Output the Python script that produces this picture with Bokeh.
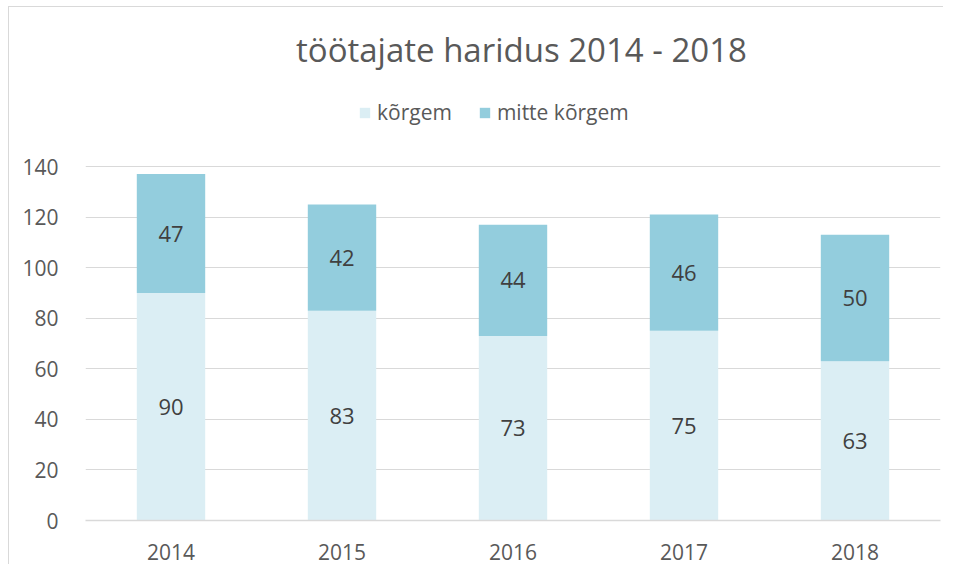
from bokeh.plotting import figure
from bokeh.models import (ColumnDataSource, FactorRange, Range1d, FixedTicker, LabelSet,
                          Legend, LegendItem, Label)
from bokeh.core.properties import value
from bokeh.embed import file_html
from bokeh.resources import INLINE

years = ["2014", "2015", "2016", "2017", "2018"]
korgem = [90, 83, 73, 75, 63]
mitte_korgem = [47, 42, 44, 46, 50]
series_names = ["kõrgem", "mitte kõrgem"]
colors = ["#DBEEF4", "#93CDDD"]
y_ticks = [0, 20, 40, 60, 80, 100, 120, 140]
title_text = "töötajate haridus 2014 - 2018"

FONT = "Open Sans"
TXT = "#595959"

# layout (pixels)
W, H = 935, 558
LEFT, RIGHT, BOTTOM = 76, 4, 45
AXIS_PX = 354            # pixels spanned by 0..140
frame_h = H - BOTTOM
y_top = y_ticks[-1] * frame_h / AXIS_PX

src = ColumnDataSource(dict(year=years, korgem=korgem, mitte=mitte_korgem))

p = figure(x_range=FactorRange(*years), y_range=Range1d(0, y_top),
           width=W, height=H, output_backend="svg", toolbar_location=None,
           min_border_left=LEFT, min_border_right=RIGHT, min_border_bottom=BOTTOM,
           min_border_top=0)
p.title = None
p.outline_line_color = None
p.styles = {"border-left": "1px solid #d9d9d9", "border-top": "1px solid #d9d9d9",
            "margin-left": "8px", "margin-top": "6px"}

rs = p.vbar_stack(["korgem", "mitte"], x="year", width=0.4, color=colors,
                  line_color=None, source=src)

# data labels
lab_x = years + years
lab_y = [k / 2 for k in korgem] + [k + m / 2 for k, m in zip(korgem, mitte_korgem)]
lab_t = [str(v) for v in korgem + mitte_korgem]
lsrc = ColumnDataSource(dict(x=lab_x, y=lab_y, t=lab_t))
p.add_layout(LabelSet(x="x", y="y", text="t", source=lsrc, text_align="center",
                      text_baseline="middle", text_font=value(FONT), text_font_size="22px",
                      text_color="#404040"))

# axes
p.yaxis.ticker = FixedTicker(ticks=y_ticks)
p.yaxis.axis_line_color = None
p.yaxis.major_tick_line_color = None
p.yaxis.minor_tick_line_color = None
p.yaxis.major_label_text_font = FONT
p.yaxis.major_label_text_font_size = "21px"
p.yaxis.major_label_text_color = TXT
p.yaxis.major_label_standoff = 21

p.xaxis.axis_line_color = "#d9d9d9"
p.xaxis.axis_line_width = 1.5
p.xaxis.major_tick_line_color = None
p.xaxis.minor_tick_line_color = None
p.xaxis.major_label_text_font = FONT
p.xaxis.major_label_text_font_size = "21px"
p.xaxis.major_label_text_color = TXT
p.xaxis.major_label_standoff = 17

p.xgrid.grid_line_color = None
p.ygrid.grid_line_color = "#d9d9d9"
p.ygrid.grid_line_width = 1

legend = Legend(items=[LegendItem(label=n, renderers=[r]) for n, r in zip(series_names, rs)],
                orientation="horizontal", location=(273, 394), border_line_color=None,
                background_fill_alpha=0, label_text_font=FONT, label_text_font_size="21px",
                label_text_color=TXT, glyph_width=13, glyph_height=13, spacing=26,
                label_standoff=6, margin=0, padding=0, label_height=24)
p.add_layout(legend)
p.add_layout(Label(x=436, y=471, x_units="screen", y_units="screen", text=title_text,
                   text_align="center", text_baseline="middle", text_font=FONT,
                   text_font_size="33px", text_color=TXT))

open("out.html", "w").write(file_html(p, INLINE))
